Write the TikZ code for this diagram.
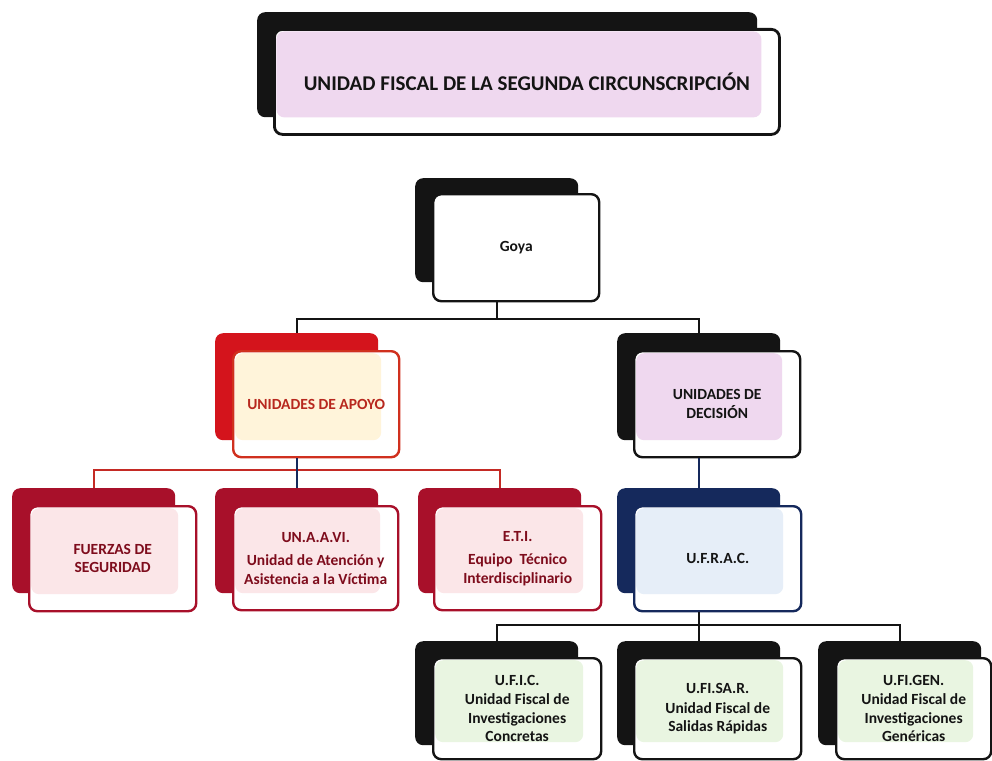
\documentclass[tikz,border=0pt]{standalone}
\usepackage{fontspec}
\setmainfont{Carlito}
\definecolor{inkblack}{HTML}{141414}
\definecolor{apoyored}{HTML}{D4141C}
\definecolor{apoyoedge}{HTML}{D0301E}
\definecolor{apoyotext}{HTML}{B8281E}
\definecolor{apoyotint}{HTML}{FFF4DA}
\definecolor{crimson}{HTML}{A8102A}
\definecolor{crimsontext}{HTML}{7E0C1C}
\definecolor{pinktint}{HTML}{FBE6E8}
\definecolor{lavtint}{HTML}{EFD8EF}
\definecolor{navy}{HTML}{15295C}
\definecolor{bluetint}{HTML}{E6EEF8}
\definecolor{greentint}{HTML}{E9F5E1}
\definecolor{redline}{HTML}{C42A24}
\newcommand\boxfont{\fontsize{15.5}{18.5}\selectfont\bfseries}
\newcommand\titlefont{\fontsize{21}{24}\selectfont\bfseries}
\tikzset{
  shadowbox/.style={rounded corners=8pt, inner sep=0pt, anchor=north west,
    minimum width=163pt, minimum height=105pt, fill=#1, draw=none},
  frontbox/.style n args={3}{draw=#1, line width=2.4pt, fill=white,
    rounded corners=8pt, anchor=north west, minimum width=166pt,
    minimum height=106pt, align=center, text=#3, inner sep=1pt, font=\boxfont,
    path picture={\fill[#2] ([shift={(2pt,-2pt)}]path picture bounding box.north west)
      rectangle ([shift={(-18pt,17pt)}]path picture bounding box.south east);}},
  conn/.style={draw=inkblack, line width=2pt},
  redconn/.style={draw=redline, line width=2pt},
  navyconn/.style={draw=navy, line width=2pt},
}
\begin{document}
\begin{tikzpicture}[x=1pt,y=1pt]
\useasboundingbox[fill=white] (0,0) rectangle (992,-760);
% title
\node[shadowbox=inkblack, minimum width=500pt, minimum height=105pt] (titleb) at (257,-12) {};
\node[frontbox={inkblack}{lavtint}{inkblack}, line width=2.8pt, minimum width=505pt, minimum height=105pt, font=\titlefont] (title) at (273,-28) {UNIDAD FISCAL DE LA SEGUNDA CIRCUNSCRIPCIÓN};
% Goya
\node[shadowbox=inkblack, minimum height=104pt] (goyab) at (415,-178) {};
\node[frontbox={inkblack}{white}{inkblack}, minimum height=107pt] (goya) at (432,-193) {Goya};
% level 2
\node[shadowbox=apoyored, minimum height=107pt] (apoyob) at (215,-333) {};
\node[frontbox={apoyoedge}{apoyotint}{apoyotext}] (apoyo) at (232,-350) {UNIDADES DE APOYO};
\node[shadowbox=inkblack, minimum height=107pt] (decb) at (617,-333) {};
\node[frontbox={inkblack}{lavtint}{inkblack}] (dec) at (633,-350) {UNIDADES DE\\DECISIÓN};
% level 3
\node[shadowbox=crimson] (fuerzasb) at (12,-488) {};
\node[frontbox={crimson}{pinktint}{crimsontext}, minimum width=167pt, minimum height=105pt] (fuerzas) at (28,-505) {FUERZAS DE\\SEGURIDAD};
\node[shadowbox=crimson] (unaavib) at (215,-488) {};
\node[frontbox={crimson}{pinktint}{crimsontext}, minimum width=165pt, minimum height=104pt] (unaavi) at (232,-505) {UN.A.A.VI.\\[5pt]Unidad de Atención y\\Asistencia a la Víctima};
\node[shadowbox=crimson] (etib) at (418,-488) {};
\node[frontbox={crimson}{pinktint}{crimsontext}, minimum width=167pt, minimum height=104pt] (eti) at (433,-505) {E.T.I.\\[5pt]Equipo~ Técnico\\Interdisciplinario};
\node[shadowbox=navy] (ufracb) at (617,-488) {};
\node[frontbox={navy}{bluetint}{inkblack}, minimum width=167pt, minimum height=105pt] (ufrac) at (633,-505) {U.F.R.A.C.};
% level 4
\node[shadowbox=inkblack, minimum height=104pt] (uficb) at (415,-641) {};
\node[frontbox={inkblack}{greentint}{inkblack}, minimum width=168pt, minimum height=101pt] (ufic) at (432,-657) {U.F.I.C.\\[1pt]Unidad Fiscal de\\Investigaciones\\Concretas};
\node[shadowbox=inkblack, minimum height=104pt] (ufisarb) at (617,-641) {};
\node[frontbox={inkblack}{greentint}{inkblack}, minimum width=167pt, minimum height=101pt] (ufisar) at (633,-657) {U.FI.SA.R.\\[1pt]Unidad Fiscal de\\Salidas Rápidas};
\node[shadowbox=inkblack, minimum height=104pt] (ufigenb) at (818,-641) {};
\node[frontbox={inkblack}{greentint}{inkblack}, minimum width=155pt, minimum height=101pt] (ufigen) at (835,-657) {U.FI.GEN.\\[1pt]Unidad Fiscal de\\Investigaciones\\Genéricas};
% connectors
\draw[conn] (goyab.south |- goya.south) -- ++(0,-17) -| (apoyob.north);
\draw[conn] (goyab.south |- goya.south) ++(0,-17) -| (decb.north);
\draw[redconn] (fuerzasb.north) -- ++(0,18) -| (etib.north);
\draw[navyconn] (apoyob.south |- apoyo.south) -- (unaavib.north);
\draw[navyconn] (decb.south |- dec.south) -- (ufracb.north);
\draw[conn] (ufracb.south |- ufrac.south) -- (ufisarb.north);
\draw[conn] (uficb.north) -- ++(0,16) -| (ufigenb.north);
\end{tikzpicture}
\end{document}
